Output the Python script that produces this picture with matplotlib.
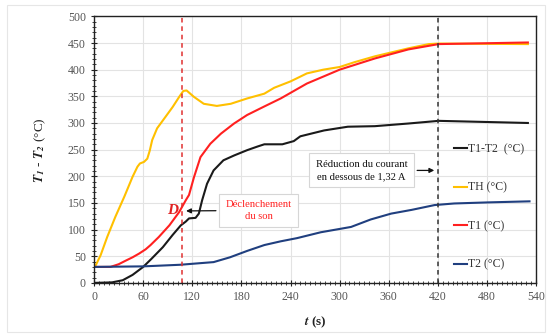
import matplotlib.pyplot as plt
from matplotlib.ticker import MultipleLocator
from matplotlib.patches import Rectangle

plt.rcParams['font.family'] = ['Liberation Serif', 'DejaVu Serif']
plt.rcParams['mathtext.fontset'] = 'stix'

# temps (s) et températures (°C)
t_th = [0, 2, 8, 16, 26, 37, 47, 53, 56, 61, 65, 68, 71, 77, 87, 96, 104, 109, 113, 122, 134,
        150, 167, 187, 208, 220, 240, 260, 280, 300, 318, 343, 384, 409, 421, 530]
th = [30, 33, 52, 86, 124, 162, 199, 218, 224, 227, 233, 248, 268, 290, 311, 330, 349, 360,
      361, 349, 336, 332, 336, 346, 355, 366, 378, 393, 400, 405, 414, 425, 440, 448, 449, 448]

t_t1 = [0, 20, 30, 39, 47, 55, 63, 69, 79, 92, 104, 112, 116, 122, 130, 142, 155, 171, 187,
        208, 228, 260, 300, 343, 384, 421, 530]
t1 = [30, 30, 35, 42, 48, 55, 63, 71, 86, 108, 133, 155, 165, 198, 236, 261, 280, 299, 315,
      331, 346, 374, 400, 421, 438, 448, 451]

t_d = [0, 22, 35, 47, 60, 70, 84, 96, 106, 112, 116, 124, 128, 132, 138, 146, 158, 171,
       187, 200, 208, 230, 244, 252, 281, 310, 343, 384, 421, 530]
d12 = [0, 1, 5, 15, 30, 45, 67, 90, 108, 115, 121, 122, 130, 155, 186, 211, 230, 239,
       249, 256, 260, 260, 266, 275, 286, 293, 294, 299, 304, 300]

t_t2 = [0, 60, 105, 146, 166, 187, 208, 228, 248, 277, 314, 338, 363, 388, 416, 440, 481, 532]
t2 = [30, 31, 34, 39, 48, 60, 71, 78, 84, 95, 105, 119, 130, 137, 146, 149, 151, 153]

t_son = 108
t_red = 420

fig = plt.figure(figsize=(5.47, 3.34), dpi=100)
fig.patches.append(Rectangle((7 / 547, 2 / 334), 538 / 547, 327 / 334, transform=fig.transFigure,
                             fill=False, edgecolor='#e6e6e6', linewidth=0.8))
ax = fig.add_axes([0.172, 0.153, 0.808, 0.798])

ax.plot(t_d, d12, color='#1a1a1a', lw=1.5, label='T1-T2  (°C)')
ax.plot(t_th, th, color='#ffc000', lw=1.5, label='TH (°C)')
ax.plot(t_t1, t1, color='#ff2020', lw=1.5, label='T1 (°C)')
ax.plot(t_t2, t2, color='#203f7f', lw=1.5, label='T2 (°C)')

ax.axvline(t_son, color='#e03030', ls=(0, (3, 2.5)), lw=1.1)
ax.axvline(t_red, color='#333333', ls=(0, (3, 2.5)), lw=1.1)

ax.set_xlim(0, 540)
ax.set_ylim(0, 500)
ax.xaxis.set_major_locator(MultipleLocator(60))
ax.xaxis.set_minor_locator(MultipleLocator(6))
ax.yaxis.set_major_locator(MultipleLocator(50))
ax.yaxis.set_minor_locator(MultipleLocator(10))
ax.grid(True, which='major', color='#e3e3e3', lw=0.8)
ax.set_axisbelow(True)
ax.tick_params(which='both', direction='inout', colors='#222222', labelcolor='#555555',
               labelsize=8.5, top=False, right=False)
ax.tick_params(which='major', length=5)
ax.tick_params(which='minor', length=3)
for s in ax.spines.values():
    s.set_color('#222222')
    s.set_linewidth(1.0)

ax.set_xlabel(r'$\mathbfit{t}$ (s)', fontsize=9.5, fontweight='bold', labelpad=8,
              color='#222222')
ax.set_ylabel(r'$\mathbfit{T_1}$ - $\mathbfit{T_2}$ (°C)', fontsize=9.5, labelpad=14,
              color='#222222')

ax.text(96, 135, 'D', color='#e02020', fontsize=11, fontweight='bold', fontstyle='italic',
        ha='center', va='center')
ax.annotate('Déclenchement\ndu son', xy=(t_son + 1, 135), xytext=(201, 136),
            ha='center', va='center', color='#ff2020', fontsize=7.7, linespacing=1.35,
            bbox=dict(boxstyle='square,pad=0.6', fc='white', ec='#d6d6d6', lw=0.8),
            arrowprops=dict(arrowstyle='-|>', color='#111111', lw=0.9, mutation_scale=7))
ax.annotate('Réduction du courant\nen dessous de 1,32 A', xy=(t_red - 1, 211),
            xytext=(327, 211), ha='center', va='center', color='#111111', fontsize=7.7,
            linespacing=1.45,
            bbox=dict(boxstyle='square,pad=0.6', fc='white', ec='#d6d6d6', lw=0.8),
            arrowprops=dict(arrowstyle='-|>', color='#111111', lw=0.9, mutation_scale=7))

ax.legend(loc='center left', bbox_to_anchor=(0.80, 0.285), frameon=False, fontsize=8.5,
          handlelength=1.1, handletextpad=0.15, labelspacing=2.25, borderpad=0,
          labelcolor='#333333')

fig.savefig('out.png', dpi=100)
